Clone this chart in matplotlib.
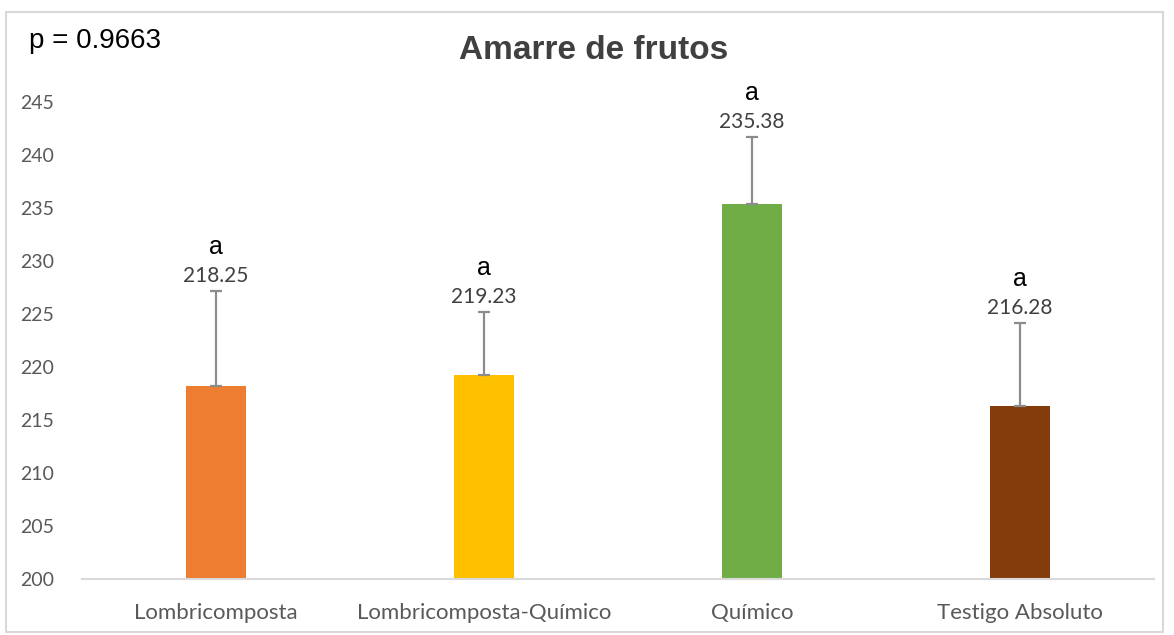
import matplotlib.pyplot as plt
from matplotlib.patches import Rectangle

categories = ["Lombricomposta", "Lombricomposta-Químico", "Químico", "Testigo Absoluto"]
means = [218.25, 219.23, 235.38, 216.28]
errors = [8.9, 6.0, 6.3, 7.9]
letters = ["a", "a", "a", "a"]
colors = ["#ED7D31", "#FFC000", "#70AD47", "#843C0C"]


def plot_bars():
    fig = plt.figure(figsize=(11.74, 6.35), dpi=100)
    ax = fig.add_axes([0.0698, 0.0882, 0.913, 0.751])

    x = range(len(categories))
    ax.bar(x, [m - 200 for m in means], bottom=200, width=0.224, color=colors, zorder=2)
    ax.errorbar(x, means, yerr=[[0] * len(errors), errors], fmt="none",
                ecolor="#8C8C8C", elinewidth=1.6, capsize=4, capthick=1.6, zorder=3)

    for i, (m, e, l) in enumerate(zip(means, errors, letters)):
        top = m + e
        ax.annotate(f"{m:.2f}", (i, top), xytext=(0, 5), textcoords="offset pixels",
                    ha="center", va="bottom", fontsize=15, color="#404040",
                    family="Lato", annotation_clip=False)
        ax.annotate(l, (i, top), xytext=(0, 32), textcoords="offset pixels",
                    ha="center", va="bottom", fontsize=18, color="black",
                    family="Liberation Sans", annotation_clip=False)

    ax.set_xlim(-0.5, 3.5)
    ax.set_ylim(200, 245)
    ax.set_yticks(range(200, 246, 5))
    ax.set_xticks(list(x))
    ax.set_xticklabels(categories)
    for lab in ax.get_xticklabels() + ax.get_yticklabels():
        lab.set_family("Lato")
        lab.set_color("#595959")
    ax.tick_params(axis="x", length=0, pad=17, labelsize=16)
    ax.tick_params(axis="y", length=0, pad=20, labelsize=14)
    for s in ["top", "right", "left"]:
        ax.spines[s].set_visible(False)
    ax.spines["bottom"].set_color("#D9D9D9")
    ax.spines["bottom"].set_linewidth(1.5)

    fig.text(0.506, 0.921, "Amarre de frutos", ha="center", va="center",
             fontsize=24, fontweight="bold", color="#404040", family="Liberation Sans")
    fig.text(0.025, 0.936, "p = 0.9663", ha="left", va="center",
             fontsize=20, color="black", family="Liberation Sans")

    fig.patches.append(Rectangle((6 / 1174, 3 / 635), 1157 / 1174, 620 / 635,
                                 transform=fig.transFigure, fill=False,
                                 edgecolor="#D9D9D9", linewidth=1.5))
    fig.savefig("out.png", dpi=100)


if __name__ == "__main__":
    plot_bars()
